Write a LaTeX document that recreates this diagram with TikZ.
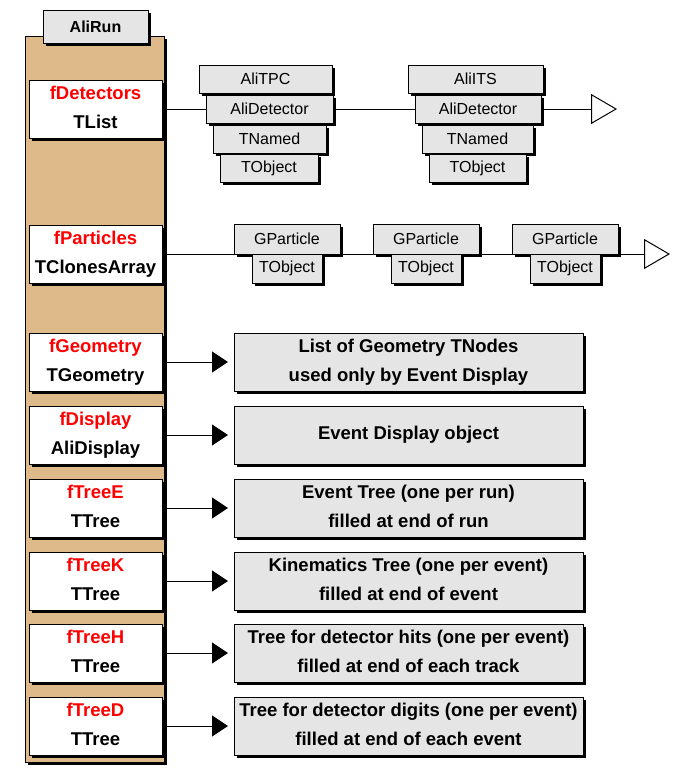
\documentclass[tikz,border=0pt]{standalone}
\usepackage{fontspec}
\setmainfont{Liberation Sans}
\usetikzlibrary{arrows.meta,shadows}
\definecolor{runtan}{RGB}{222,186,138}
\definecolor{boxgray}{RGB}{229,229,229}
\newcommand\twolines[2]{\rule{0pt}{14pt}#1\\#2\rule[-4pt]{0pt}{4pt}}

\begin{document}
\begin{tikzpicture}[x=1pt,y=-1pt,line width=1pt,
    boxshadow/.style={drop shadow={shadow xshift=3pt,shadow yshift=-3pt,fill=black,opacity=1}},
    bigtext/.style={font=\fontsize{18.5}{29}\selectfont\bfseries},
    member/.style={draw,fill=white,boxshadow,bigtext,align=center,inner sep=0pt,outer sep=0pt,minimum width=133pt,minimum height=58pt},
    info/.style={draw,fill=boxgray,boxshadow,bigtext,align=center,inner sep=0pt,outer sep=0pt,minimum width=349pt,minimum height=58pt},
    cls/.style={draw,fill=boxgray,boxshadow,font=\fontsize{16}{18}\selectfont,inner sep=0pt,outer sep=0pt,minimum height=28pt},
    link/.style={-{Triangle[length=16pt,width=21pt]},shorten >=6pt},
    runoff/.style={-{Triangle[length=26pt,width=30pt,fill=white]}}]
    \useasboundingbox (0,0) rectangle (680,772);

    % AliRun and its data members
    \node[draw,fill=runtan,boxshadow,inner sep=0pt,minimum width=139pt,minimum height=726pt] (run) at (94.5,399) {};
    \node[cls,font=\fontsize{16}{18}\selectfont\bfseries,minimum width=105pt,minimum height=33pt] (alirun) at (95.5,26.5) {AliRun};

    \node[member] (mdet) at (95.5,109) {\twolines{\textcolor{red}{fDetectors}}{TList}};
    \node[member] (mpar) at (95.5,254) {\twolines{\textcolor{red}{fParticles}}{TClonesArray}};
    \node[member] (mgeo) at (95.5,362) {\twolines{\textcolor{red}{fGeometry}}{TGeometry}};
    \node[member] (mdisp) at (95.5,435) {\twolines{\textcolor{red}{fDisplay}}{AliDisplay}};
    \node[member] (mtreee) at (95.5,508) {\twolines{\textcolor{red}{fTreeE}}{TTree}};
    \node[member] (mtreek) at (95.5,581) {\twolines{\textcolor{red}{fTreeK}}{TTree}};
    \node[member] (mtreeh) at (95.5,653) {\twolines{\textcolor{red}{fTreeH}}{TTree}};
    \node[member] (mtreed) at (95.5,726) {\twolines{\textcolor{red}{fTreeD}}{TTree}};

    % list of detectors
    \node[cls,minimum width=133pt] (tpc) at (265.5,79) {AliTPC};
    \node[cls,minimum width=127pt] (tpcdet) at (269.5,109) {AliDetector};
    \node[cls,minimum width=113pt] (tpcnam) at (269.5,139) {TNamed};
    \node[cls,minimum width=98pt] (tpcobj) at (269,168) {TObject};

    \node[cls,minimum width=135pt] (its) at (475.5,79) {AliITS};
    \node[cls,minimum width=126pt] (itsdet) at (478,109) {AliDetector};
    \node[cls,minimum width=111pt] (itsnam) at (477.5,139) {TNamed};
    \node[cls,minimum width=97pt] (itsobj) at (477.5,168) {TObject};

    \coordinate (detend) at (617,109);
    \draw (mdet.east) -- (tpcdet.west);
    \draw (tpcdet.east) -- (itsdet.west);
    \draw[runoff] (itsdet.east) -- (detend);

    % array of particles
    \node[cls,minimum width=106pt,minimum height=30pt] (gp1) at (287,239) {GParticle};
    \node[cls,minimum width=70pt,minimum height=29pt] (ob1) at (287,268.5) {TObject};
    \node[cls,minimum width=106pt,minimum height=30pt] (gp2) at (426,239) {GParticle};
    \node[cls,minimum width=70pt,minimum height=29pt] (ob2) at (426,268.5) {TObject};
    \node[cls,minimum width=106pt,minimum height=30pt] (gp3) at (565,239) {GParticle};
    \node[cls,minimum width=70pt,minimum height=29pt] (ob3) at (565,268.5) {TObject};

    \coordinate (parend) at (670,254);
    \draw (mpar.east) -- (gp1.south west);
    \draw (gp1.south east) -- (gp2.south west);
    \draw (gp2.south east) -- (gp3.south west);
    \draw[runoff] (gp3.south east) -- (parend);

    % geometry, display and trees
    \node[info] (igeo) at (408.5,362) {\twolines{List of Geometry TNodes}{used only by Event Display}};
    \node[info] (idisp) at (408.5,435) {Event Display object};
    \node[info] (itreee) at (408.5,508) {\twolines{Event Tree (one per run)}{filled at end of run}};
    \node[info] (itreek) at (408.5,581) {\twolines{Kinematics Tree (one per event)}{filled at end of event}};
    \node[info] (itreeh) at (408.5,653) {\twolines{Tree for detector hits (one per event)}{filled at end of each track}};
    \node[info] (itreed) at (408.5,726) {\twolines{Tree for detector digits (one per event)}{filled at end of each event}};

    \draw[link] (mgeo.east) -- (igeo.west);
    \draw[link] (mdisp.east) -- (idisp.west);
    \draw[link] (mtreee.east) -- (itreee.west);
    \draw[link] (mtreek.east) -- (itreek.west);
    \draw[link] (mtreeh.east) -- (itreeh.west);
    \draw[link] (mtreed.east) -- (itreed.west);
\end{tikzpicture}
\end{document}
